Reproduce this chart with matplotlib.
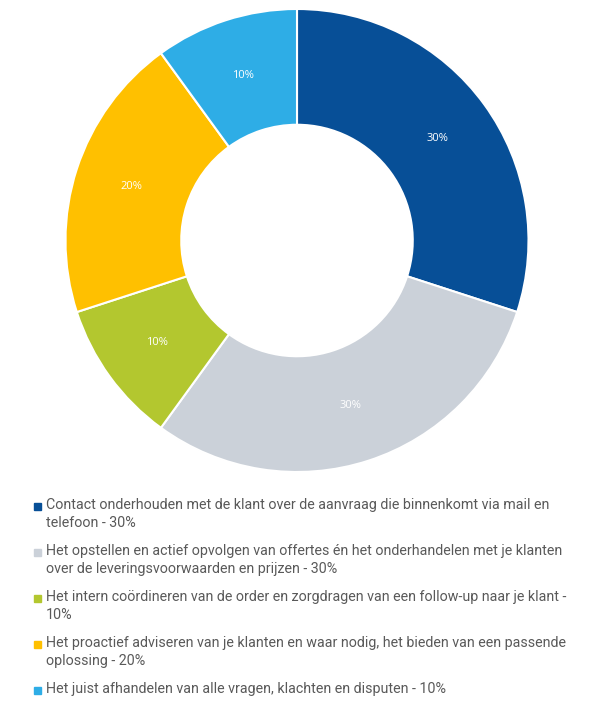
import matplotlib.pyplot as plt
from matplotlib.patches import Rectangle

# data
labels = [
    'Contact onderhouden met de klant over de aanvraag die binnenkomt via mail en\ntelefoon - 30%',
    'Het opstellen en actief opvolgen van offertes én het onderhandelen met je klanten\nover de leveringsvoorwaarden en prijzen - 30%',
    'Het intern coördineren van de order en zorgdragen van een follow-up naar je klant -\n10%',
    'Het proactief adviseren van je klanten en waar nodig, het bieden van een passende\noplossing - 20%',
    'Het juist afhandelen van alle vragen, klachten en disputen - 10%',
]
values = [30, 30, 10, 20, 10]
colors = ['#074F97', '#CBD1D9', '#B3C72F', '#FFC000', '#2EADE6']

W, H = 600, 710
fig = plt.figure(figsize=(W / 100, H / 100), dpi=100)

cx, cy, r = 297, 240.5, 231.5
ax = fig.add_axes([(cx - r) / W, (H - cy - r) / H, 2 * r / W, 2 * r / H])

wedges, texts, autotexts = ax.pie(
    values, colors=colors, startangle=90, counterclock=False,
    autopct='%d%%', pctdistance=0.75,
    wedgeprops=dict(width=0.5, edgecolor='white', linewidth=1.5),
    textprops=dict(color='white', fontsize=8, family='Open Sans'))
ax.set_xlim(-1, 1)
ax.set_ylim(-1, 1)
ax.set_aspect('equal')
ax.axis('off')

# legend, placed by hand so the labels wrap like the original
y0 = 506
for i, (lab, col) in enumerate(zip(labels, colors)):
    y = y0 + i * 46
    fig.patches.append(Rectangle((34 / W, 1 - (y + 3.5) / H), 7 / W, 7 / H,
                                 transform=fig.transFigure, color=col))
    fig.text(46 / W, 1 - (y - 8) / H, lab, fontsize=10.3, family='Roboto',
             color='#595959', va='top', ha='left', linespacing=1.4)

fig.savefig('out.png', dpi=100)
